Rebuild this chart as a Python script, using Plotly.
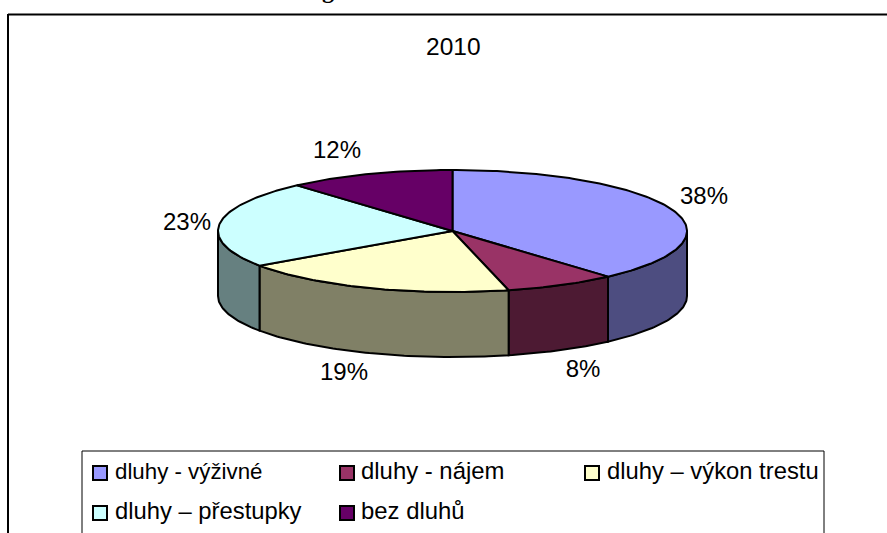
import numpy as np
import plotly.graph_objects as go

# data
year = "2010"
categories = ["dluhy - výživné", "dluhy - nájem", "dluhy – výkon trestu", "dluhy – přestupky", "bez dluhů"]
counts = [10, 2, 5, 6, 3]  # estimated, fits both the slice edges and the rounded percents
top_colors = ["#9999FF", "#993366", "#FFFFCC", "#CCFFFF", "#660066"]
side_colors = ["#4D4D80", "#4D1A33", "#808066", "#668080", "#330033"]

# pie geometry, in page pixels
cx, cy = 452.5, 231
rx, ry = 234.5, 61
depth = 65

label_x = [704, 583, 344, 187, 337]
label_y = [198, 371, 374, 224, 152]
legend_x = [100, 347, 592, 100, 347]
legend_y = [473, 473, 473, 513, 513]
legend_text_x = [115, 361, 607, 115, 361]
legend_text_size = [22.3, 23.9, 23.8, 23.8, 23.9]

percents = [round(100 * c / sum(counts)) for c in counts]


def rim(a0, a1):
    # angles are clockwise from 12 o'clock
    t = np.radians(np.linspace(a0, a1, max(2, int(abs(a1 - a0)) + 2)))
    return cx + rx * np.sin(t), cy - ry * np.cos(t)


fig = go.Figure()

edges = np.cumsum([0] + counts) * 360 / sum(counts)

# side walls first, only the front half of the disc shows
for i in range(len(counts)):
    a0 = max(edges[i], 90)
    a1 = min(edges[i + 1], 270)
    if a1 <= a0:
        continue
    x, y = rim(a0, a1)
    fig.add_trace(go.Scatter(
        x=np.concatenate([x, x[::-1], x[:1]]),
        y=np.concatenate([y, y[::-1] + depth, y[:1]]),
        mode="lines",
        fill="toself",
        fillcolor=side_colors[i],
        line=dict(color="black", width=2),
        hoverinfo="skip",
    ))

# top of the disc
for i in range(len(counts)):
    x, y = rim(edges[i], edges[i + 1])
    fig.add_trace(go.Scatter(
        x=np.concatenate([[cx], x, [cx]]),
        y=np.concatenate([[cy], y, [cy]]),
        mode="lines",
        fill="toself",
        fillcolor=top_colors[i],
        line=dict(color="black", width=2),
        name=categories[i],
        hoverinfo="name",
    ))

# percent labels
fig.add_trace(go.Scatter(
    x=label_x,
    y=label_y,
    mode="text",
    text=[str(v) + "%" for v in percents],
    textposition="middle center",
    textfont=dict(family="Liberation Sans", size=24, color="black"),
    hoverinfo="skip",
))

# legend entries
fig.add_trace(go.Scatter(
    x=legend_x,
    y=legend_y,
    mode="markers",
    marker=dict(symbol="square", size=14, color=top_colors, line=dict(color="black", width=2)),
    hoverinfo="skip",
))
fig.add_trace(go.Scatter(
    x=legend_text_x,
    y=legend_y,
    mode="text",
    text=categories,
    textposition="middle right",
    textfont=dict(family="Liberation Sans", size=legend_text_size, color="black"),
    hoverinfo="skip",
))

fig.update_layout(
    width=887,
    height=533,
    margin=dict(l=0, r=0, t=0, b=0),
    showlegend=False,
    paper_bgcolor="white",
    plot_bgcolor="white",
    xaxis=dict(range=[0, 887], visible=False, fixedrange=True),
    yaxis=dict(range=[533, 0], visible=False, fixedrange=True),
    shapes=[
        dict(type="line", x0=8, x1=887, y0=14.5, y1=14.5, line=dict(color="black", width=2)),
        dict(type="line", x0=8, x1=8, y0=14, y1=533, line=dict(color="black", width=2)),
        dict(type="line", x0=82, x1=824, y0=451, y1=451, line=dict(color="black", width=1)),
        dict(type="line", x0=82, x1=82, y0=451, y1=533, line=dict(color="black", width=1)),
        dict(type="line", x0=824, x1=824, y0=451, y1=533, line=dict(color="black", width=1)),
    ],
    annotations=[
        dict(x=453, y=46, xref="x", yref="y", text=year, showarrow=False,
             font=dict(family="Liberation Sans", size=24.5, color="black")),
        # only the tail of the page heading is left at the top edge
        dict(x=328, y=1 - 5 / 533, xref="x", yref="paper", yanchor="bottom", text="<b>g</b>", showarrow=False,
             font=dict(family="Liberation Serif", size=24, color="black")),
    ],
)

# the page's default body margin would shift the figure by 8 px
fig.write_html("out.html", config=dict(displayModeBar=False),
               post_script="document.body.style.margin = '0';")
